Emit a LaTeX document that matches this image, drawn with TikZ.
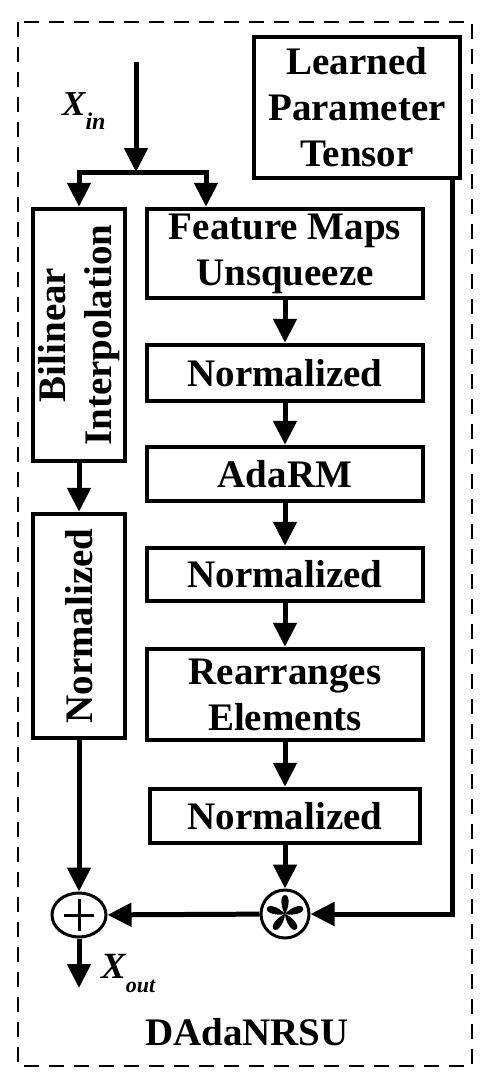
\documentclass[tikz,border=0pt]{standalone}
\usepackage{fontspec}
\usepackage{graphicx}
\setmainfont{Liberation Serif}
\usetikzlibrary{arrows.meta,shapes.geometric,calc}
\begin{document}
\begin{tikzpicture}[x=1pt,y=-1pt,
  blk/.style={draw,line width=4.5pt,inner sep=0pt,align=center,
    font=\bfseries\fontsize{39}{46}\selectfont},
  arr/.style={line width=5pt,-{Triangle[width=23pt,length=24pt]}},
  ln/.style={line width=5pt},
  op/.style={draw,line width=3pt,inner sep=0pt},
  frame/.style={line width=2.3pt,dash pattern=on 15pt off 10pt},
  lbl/.style={inner sep=0pt,font=\bfseries\fontsize{39}{46}\selectfont},
]
\useasboundingbox (0,0) rectangle (490,1080);
\draw[frame] (18,22) rectangle (472,1066);

\node[blk,minimum width=206,minimum height=141] (lpt) at (357,107.5) {Learned\\Parameter\\Tensor};
\node[blk,minimum width=276,minimum height=89] (fm) at (285,253.5) {Feature Maps\\Unsqueeze};
\node[blk,minimum width=276,minimum height=56] (n1) at (285,373) {Normalized};
\node[blk,minimum width=276,minimum height=54] (ada) at (285,474) {AdaRM};
\node[blk,minimum width=276,minimum height=53] (n2) at (285,574.5) {Normalized};
\node[blk,minimum width=276,minimum height=91] (re) at (285,694.5) {Rearranges\\Elements};
\node[blk,minimum width=270,minimum height=54] (n3) at (285,816) {Normalized};
\node[blk,minimum width=92,minimum height=252] (bil) at (79,335)
  {\rotatebox{90}{\begin{tabular}{@{}c@{}}Bilinear\\Interpolation\end{tabular}}};
\node[blk,minimum width=92,minimum height=224] (nl) at (79,626) {\rotatebox{90}{Normalized}};

\node[op,ellipse,minimum width=54,minimum height=44] (plus) at (79,915) {};
\node[op,circle,minimum size=48] (star) at (285,914) {};
\draw[line width=3pt] ($(plus.center)+(-15,0)$) -- ($(plus.center)+(15,0)$);
\draw[line width=3pt] ($(plus.center)+(0,-16)$) -- ($(plus.center)+(0,16)$);
\begin{scope}[shift={(star.center)}]
  \foreach \a in {0,72,144,216,288}
    \fill[rotate=\a] (0,0) .. controls (-4,-6) and (-5.5,-19) .. (0,-19)
      .. controls (5.5,-19) and (4,-6) .. (0,0);
\end{scope}

% input
\coordinate (in) at (136,62);
\coordinate (split) at (136,172);
\coordinate (sl) at (79,172);
\coordinate (sr) at (206,172);
\draw[arr] (in) -- (split);
\draw[ln] ([xshift=-2.5pt]sl) -- ([xshift=2.5pt]sr);
\draw[arr] (sl) -- (sl |- bil.north);
\draw[arr] (sr) -- (sr |- fm.north);
\node[inner sep=0pt,anchor=base west] (xin) at (62,115)
  {\bfseries\itshape\fontsize{35}{40}\selectfont X\raisebox{-14pt}{\fontsize{24}{26}\selectfont in}};

% right column
\draw[arr] (fm) -- (n1);
\draw[arr] (n1) -- (ada);
\draw[arr] (ada) -- (n2);
\draw[arr] (n2) -- (re);
\draw[arr] (re) -- (n3);
\draw[arr] (n3) -- (star);

% left column
\draw[arr] (bil) -- (nl);
\draw[arr] (nl) -- (plus);

% learned parameter path
\draw[arr] ([xshift=-10pt]lpt.south east) |- (star.east);
\draw[arr] (star) -- (plus);

% output
\coordinate (out) at (79,988);
\draw[arr] (plus) -- (out);
\node[inner sep=0pt,anchor=base west] (xout) at (101,978)
  {\bfseries\itshape\fontsize{37}{40}\selectfont X\raisebox{-14pt}{\fontsize{22}{24}\selectfont out}};

\node[lbl,anchor=base] (title) at (247,1045) {DAdaNRSU};
\end{tikzpicture}
\end{document}
